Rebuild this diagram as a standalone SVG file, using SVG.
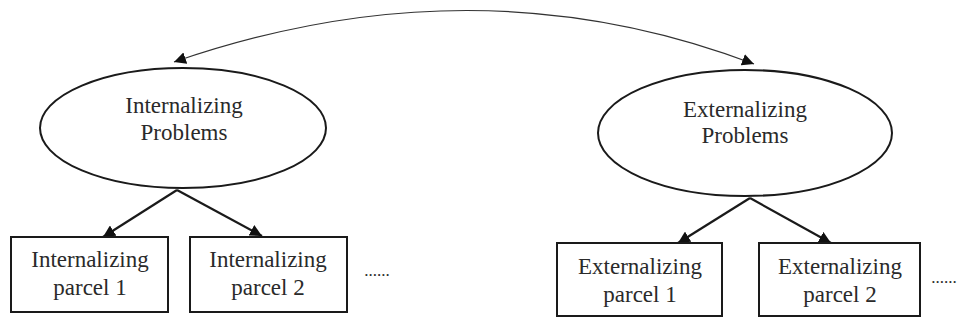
<svg xmlns="http://www.w3.org/2000/svg" width="960" height="320" viewBox="0 0 960 320">
<style>
.shape{fill:#fff;stroke:#1a1a1a;stroke-width:2}
.t{font-family:"Liberation Serif","Times New Roman",serif;font-size:23px;fill:#2a2a2a;text-anchor:middle}
.dots{font-family:"Liberation Serif","Times New Roman",serif;font-size:17px;fill:#2a2a2a;text-anchor:middle}
.thin{fill:none;stroke:#333;stroke-width:1.2}
.thick{fill:none;stroke:#1a1a1a;stroke-width:2.2}
</style>
<defs>
<marker id="ah2" viewBox="0 0 10 10" refX="10" refY="5" markerWidth="12" markerHeight="12" markerUnits="userSpaceOnUse" orient="auto-start-reverse">
<path d="M0,0 L10,5 L0,10 z" fill="#111"/>
</marker>
</defs>
<g id="connectors">
<path class="thin" d="M174,62 Q475,-42 754,64" marker-start="url(#ah2)" marker-end="url(#ah2)"/>
<path class="thick" d="M177,190 L103,237" marker-end="url(#ah2)"/>
<path class="thick" d="M177,190 L262,236" marker-end="url(#ah2)"/>
<path class="thick" d="M750,198 L678,243" marker-end="url(#ah2)"/>
<path class="thick" d="M750,198 L831,243" marker-end="url(#ah2)"/>
</g>
<g id="internalizing-problems">
<ellipse class="shape" cx="183" cy="128" rx="143" ry="60"/>
<text class="t" x="184" y="113">Internalizing</text>
<text class="t" x="184" y="140">Problems</text>
</g>
<g id="externalizing-problems">
<ellipse class="shape" cx="745" cy="133" rx="147" ry="63"/>
<text class="t" x="745" y="117">Externalizing</text>
<text class="t" x="745" y="143">Problems</text>
</g>
<g id="internalizing-parcel-1">
<rect class="shape" x="11" y="237" width="157" height="75"/>
<text class="t" x="90" y="267">Internalizing</text>
<text class="t" x="90" y="295">parcel 1</text>
</g>
<g id="internalizing-parcel-2">
<rect class="shape" x="190" y="237" width="157" height="75"/>
<text class="t" x="268" y="267">Internalizing</text>
<text class="t" x="268" y="295">parcel 2</text>
</g>
<g id="internalizing-more">
<text class="dots" x="377" y="276">......</text>
</g>
<g id="externalizing-parcel-1">
<rect class="shape" x="557" y="243" width="165" height="73"/>
<text class="t" x="640" y="274">Externalizing</text>
<text class="t" x="640" y="302">parcel 1</text>
</g>
<g id="externalizing-parcel-2">
<rect class="shape" x="759" y="243" width="161" height="73"/>
<text class="t" x="840" y="274">Externalizing</text>
<text class="t" x="840" y="302">parcel 2</text>
</g>
<g id="externalizing-more">
<text class="dots" x="944" y="283">......</text>
</g>
</svg>
